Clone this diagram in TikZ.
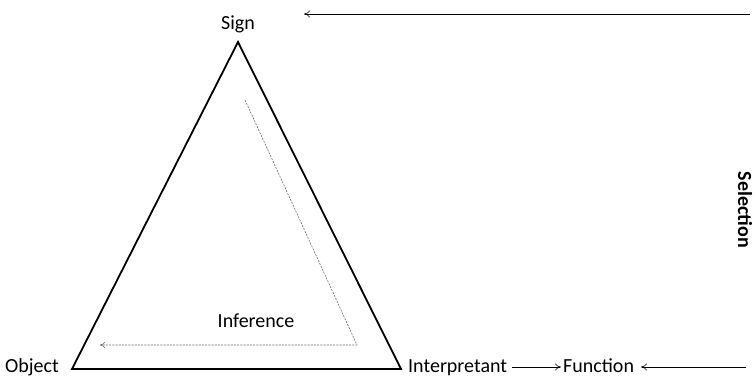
\documentclass[tikz,border=0pt]{standalone}
\usepackage{fontspec}
\setmainfont{Carlito}
\usetikzlibrary{arrows.meta}
\begin{document}
\begin{tikzpicture}[x=1pt,y=-1pt,
  lbl/.style={inner sep=0pt,font=\fontsize{20}{23}\selectfont},
  arr/.style={-{To[length=6pt,width=7pt]},line width=0.6pt},
  tri/.style={line width=1.8pt,line join=miter},
  inf/.style={black!60,dashed,dash pattern=on 2pt off 1.2pt,line width=0.6pt,-{To[length=5pt,width=6pt]}}]
\useasboundingbox (0,0) rectangle (756,376);
\coordinate (A) at (238,42);
\coordinate (L) at (72,369);
\coordinate (R) at (401,369);
\draw[tri] (A) -- (L) -- (R) -- cycle;
\node[lbl,anchor=base] (sign) at (238,29) {Sign};
\node[lbl,anchor=base west] (obj) at (5,372) {Object};
\node[lbl,anchor=base west] (interp) at (408,372) {Interpretant};
\node[lbl,anchor=base west] (func) at (563,372) {Function};
\node[lbl,anchor=base] (infer) at (256,327) {Inference};
\node[lbl,font=\fontsize{20}{23}\selectfont\bfseries,rotate=-90] (sel) at (745,210) {Selection};
\coordinate (t1) at (750,14);
\coordinate (t2) at (304,14);
\coordinate (f1) at (746,367);
\coordinate (i1) at (512,367);
\coordinate (i2) at (561,367);
\coordinate (f2) at (641,367);
\draw[arr] (t1) -- (t2);
\draw[arr] (i1) -- (i2);
\draw[arr] (f1) -- (f2);
\coordinate (d1) at (245,100);
\coordinate (d2) at (357,345);
\coordinate (d3) at (100,345);
\draw[inf] (d1) -- (d2) -- (d3);
\end{tikzpicture}
\end{document}
